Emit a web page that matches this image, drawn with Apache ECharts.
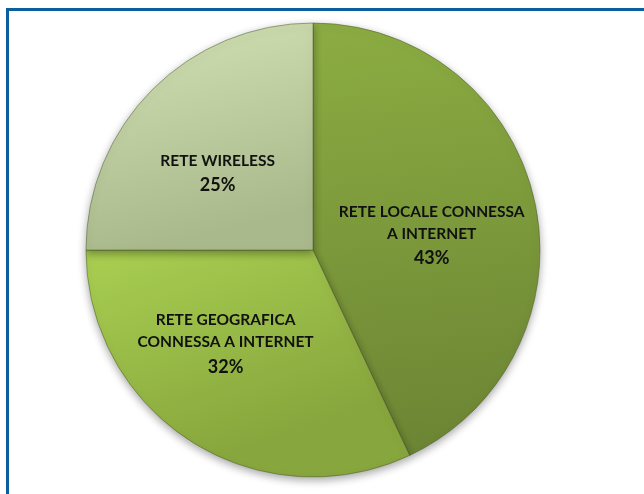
<!DOCTYPE html>
<html>
<head>
<meta charset="utf-8">
<script src="https://cdn.jsdelivr.net/npm/echarts@6/dist/echarts.min.js"></script>
<style>
  html, body { margin: 0; padding: 0; background: #ffffff; }
  #chart { width: 644px; height: 494px; }
</style>
</head>
<body>
<div id="chart"></div>
<script>
// Network types and their shares (percent)
const categories = [
  'RETE LOCALE CONNESSA\nA INTERNET',
  'RETE GEOGRAFICA\nCONNESSA A INTERNET',
  'RETE WIRELESS'
];
const shares = [43, 32, 25];

// Per-slice fill gradients: [top, bottom]
const sliceColors = [
  ['#8cad42', '#6c8534'],
  ['#a9cf51', '#87a63d'],
  ['#d3e2b4', '#aab98b']
];
// Label nudges from the default inside position
const labelOffsets = [[5, 12], [-25, -3], [-13, 7]];

const chart = echarts.init(document.getElementById('chart'), null, { renderer: 'canvas' });

const data = categories.map((name, i) => ({
  name: name,
  value: shares[i],
  itemStyle: {
    color: new echarts.graphic.LinearGradient(0, 0, 0.25, 1, [
      { offset: 0, color: sliceColors[i][0] },
      { offset: 1, color: sliceColors[i][1] }
    ])
  },
  label: { offset: labelOffsets[i] }
}));

const labelFont = 'Lato, "Open Sans", sans-serif';

chart.setOption({
  animation: false,
  backgroundColor: '#ffffff',
  graphic: [
    {
      type: 'rect',
      shape: { x: 7.5, y: 9.5, width: 700, height: 600 },
      style: { fill: 'none', stroke: '#0c5f9f', lineWidth: 3 }
    }
  ],
  series: [
    {
      type: 'pie',
      center: [313, 250],
      radius: [0, 227],
      startAngle: 90,
      clockwise: true,
      data: data,
      itemStyle: {
        borderColor: 'rgba(70,85,40,0.6)',
        borderWidth: 0.8,
        shadowBlur: 8,
        shadowOffsetY: 3,
        shadowColor: 'rgba(0,0,0,0.35)'
      },
      label: {
        show: true,
        position: 'inside',
        formatter: (p) => {
          const nameLines = p.name.split('\n').map((l) => '{n|' + l + '}');
          return nameLines.join('\n') + '\n{p|' + p.value + '%}';
        },
        align: 'center',
        rich: {
          n: {
            color: '#111111',
            fontFamily: labelFont,
            fontWeight: 'bold',
            fontSize: 15.5,
            lineHeight: 22,
            align: 'center'
          },
          p: {
            color: '#111111',
            fontFamily: labelFont,
            fontWeight: 'bold',
            fontSize: 18,
            lineHeight: 28,
            align: 'center'
          }
        }
      },
      labelLine: { show: false },
      emphasis: { disabled: true }
    }
  ]
});
</script>
</body>
</html>
